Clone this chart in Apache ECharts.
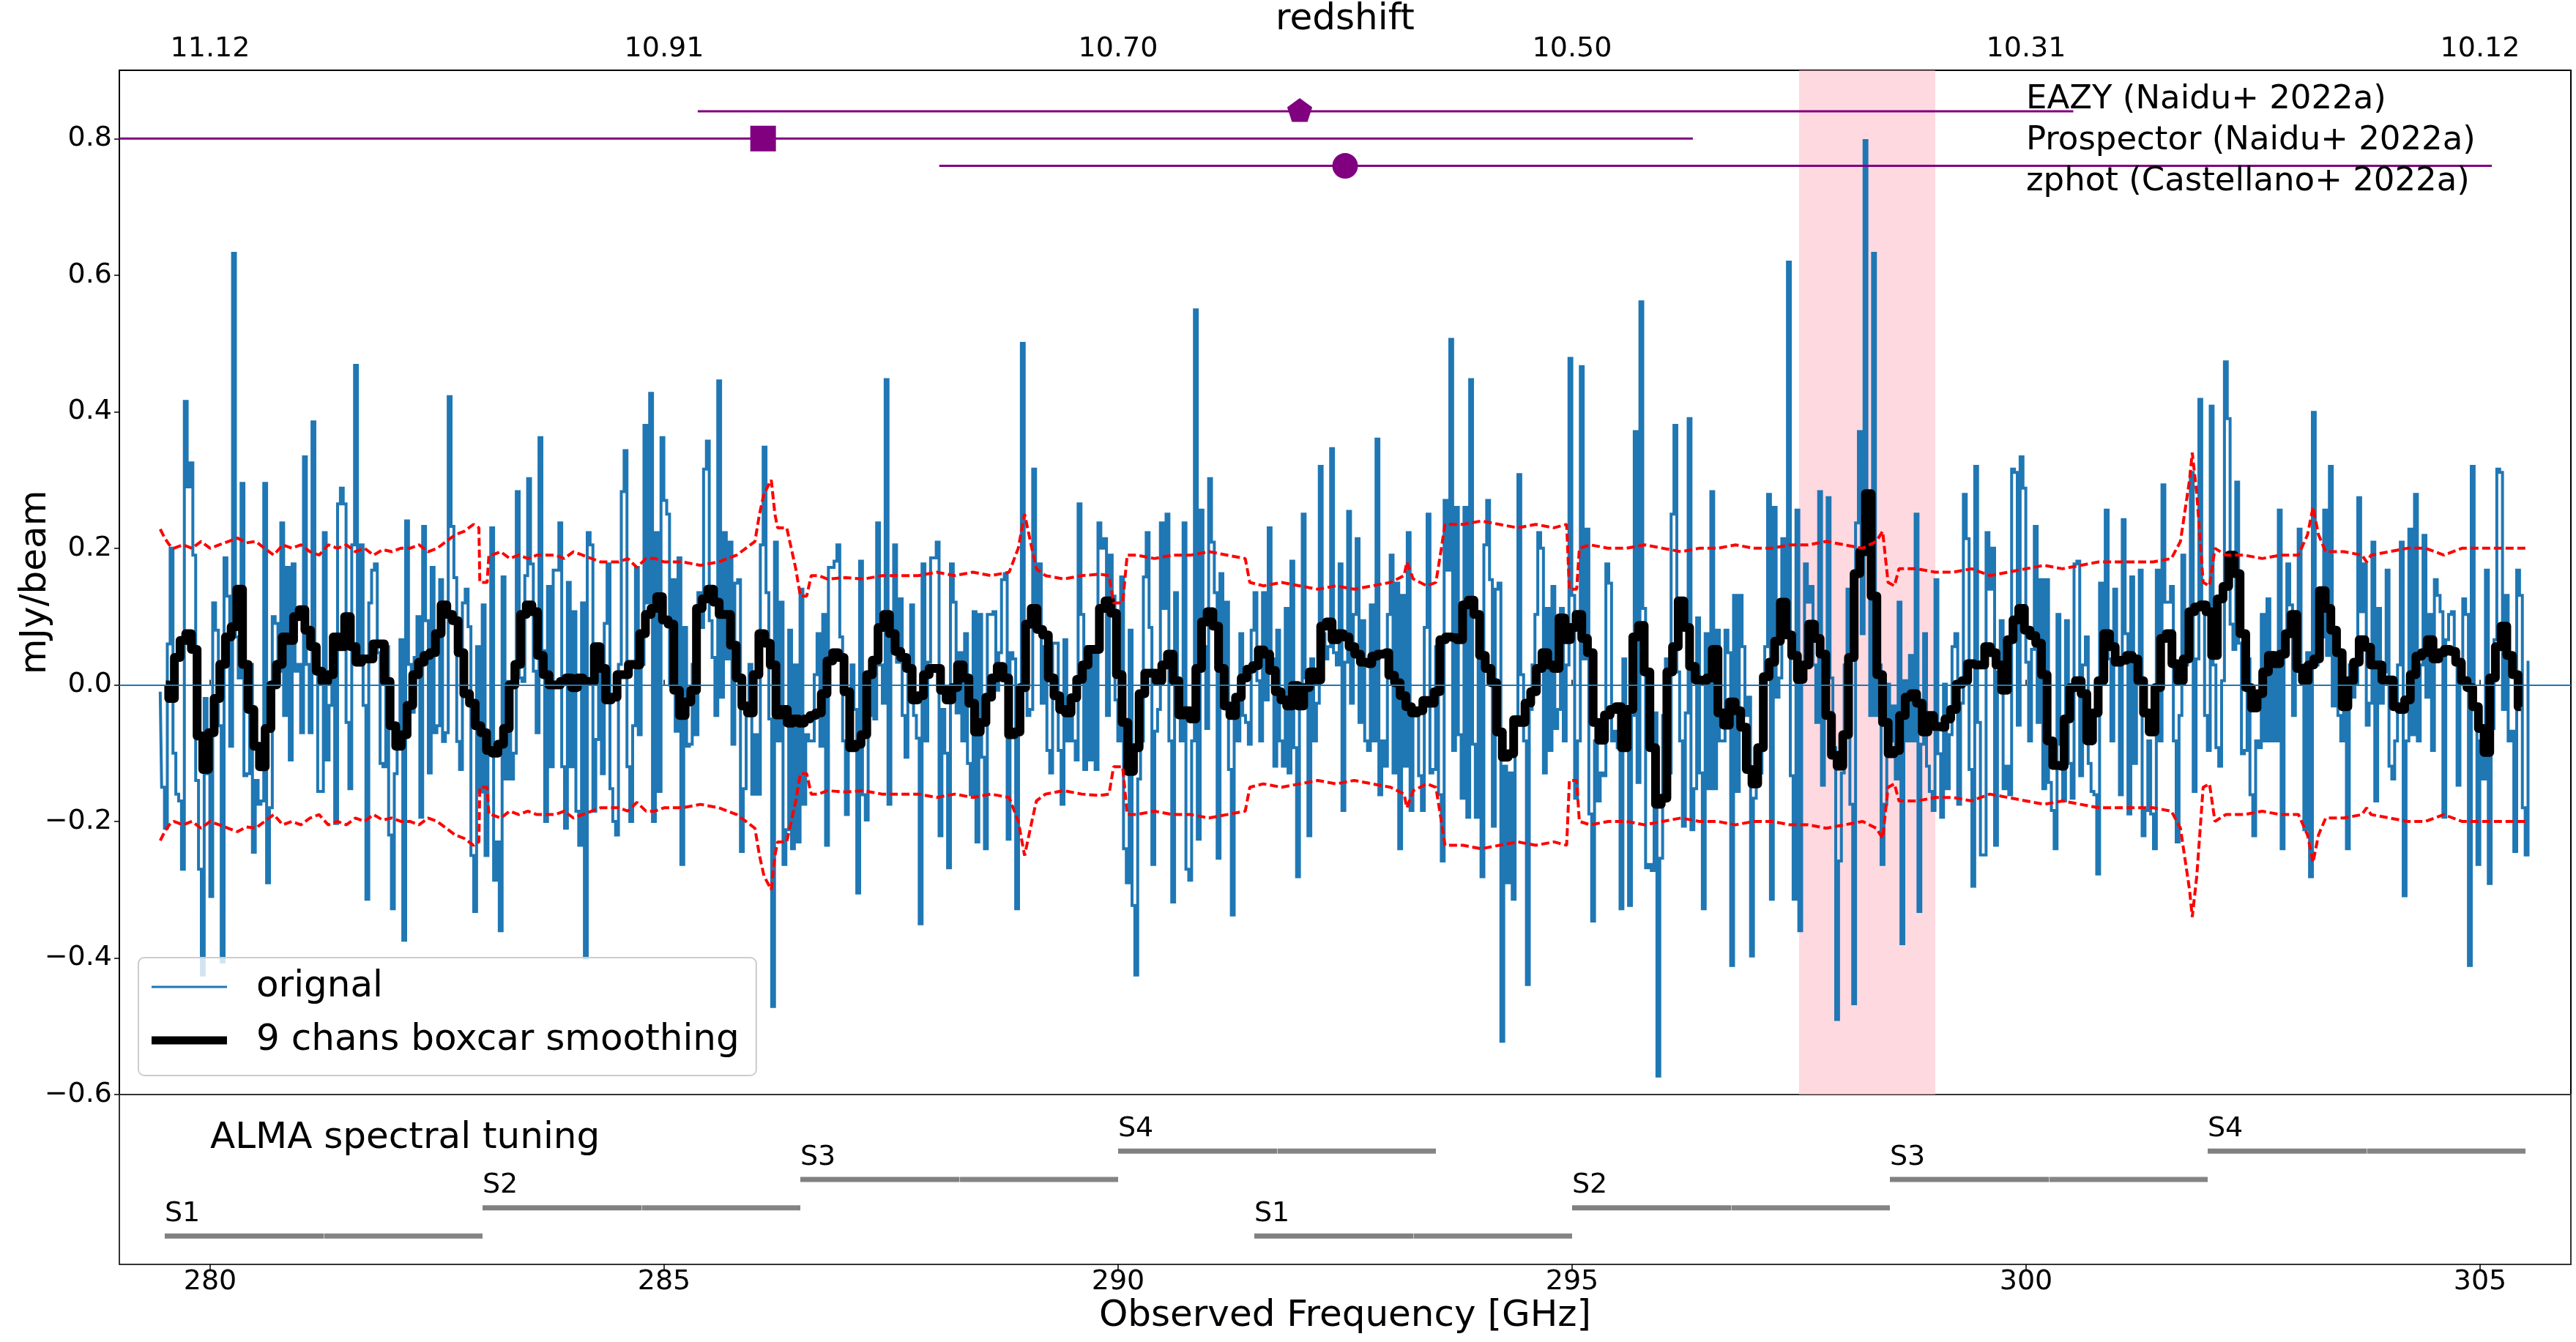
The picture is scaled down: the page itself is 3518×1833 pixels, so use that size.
<!DOCTYPE html>
<html><head><meta charset="utf-8">
<script src="https://cdn.jsdelivr.net/npm/echarts@6/dist/echarts.min.js"></script>
<style>html,body{margin:0;padding:0;background:#fff}#c{width:3518px;height:1833px}</style>
</head><body><div id="c"></div>
<script>
// ---- channel grid of the original spectrum ----
const chanStart = 279.45, chanWidth = 0.03125;
// original spectrum, mJy/beam (segment by segment)
const orig1 = [-0.01,-0.15,-0.21,0.06,0.2,-0.1,-0.16,-0.17,-0.27,0.415,0.29,0.325,0.19,-0.14,-0.27,-0.425,-0.02,-0.13,-0.31,0.12,0.08,-0.06,-0.406,0.186,0.13,-0.09,0.632,0.07,0.01,0.295,-0.133,-0.13,
0.03,-0.245,-0.14,-0.175,-0.17,0.295,-0.29,-0.18,0.1,0.09,0.02,0.237,-0.045,0.172,-0.11,0.177,0.02,0.03,-0.07,0.334,0.03,-0.07,0.385,0.05,-0.156,-0.156,0.223,-0.11,-0.03,0.03,-0.203,0.265,
0.288,0.265,-0.055,-0.152,0.205,0.468,0.03,0.205,-0.03,-0.314,0.12,0.168,0.177,0.047,-0.115,-0.12,0.056,-0.22,-0.328,-0.13,-0.09,0.066,-0.374,0.24,0.03,-0.04,0.04,0.1,-0.194,0.232,0.094,-0.129,
0.172,-0.07,-0.06,0.154,-0.083,-0.07,0.422,0.232,0.157,-0.083,-0.124,0.12,0.14,0.085,-0.25,-0.332,0.056,-0.157,0.117,-0.25,-0.09,0.23,-0.286,-0.23,-0.36,0.158,-0.138,0.005,-0.138,-0.1,0.283,0.01,
0.005,0.16,0.302,0.177,0.02,-0.07,0.362,0.05,-0.2,0.144,-0.12,0.168,0.168,0.237,-0.12,-0.21,0.15,-0.12,0.107,-0.185,-0.235,0.12,-0.4,0.223,0.205,-0.185,-0.08,0.056,-0.13,0.09];
const orig2 = [0.177,-0.152,-0.2,-0.22,0.03,0.283,0.343,-0.12,-0.2,-0.06,
0.172,-0.073,0.03,0.38,0.12,0.427,-0.2,0.223,-0.156,0.362,
0.27,0.25,0.0,0.154,-0.068,0.186,-0.263,0.084,-0.09,-0.087,
0.03,-0.073,0.135,0.084,0.316,0.357,0.094,0.04,-0.045,0.445,
-0.018,0.223,0.038,0.209,-0.087,0.149,0.154,-0.244,-0.152,-0.036,
0.03,-0.16,-0.073,-0.16,0.205,0.348,0.135,-0.05,-0.471,0.209,
-0.082,0.121,-0.263,-0.212,0.08,-0.24,0.029,-0.23,0.14,-0.175,
-0.073,-0.082,-0.082,0.015,0.075,-0.09,0.103,-0.235,0.172,0.172,
0.181,0.205,0.07,-0.082,-0.19,-0.087,0.029,-0.036,-0.305,0.181,
-0.161,-0.198,-0.045,0.029,-0.05,0.237,0.029,-0.027,0.447,-0.175,
0.066,0.205,0.033,0.126,-0.045,-0.106,0.029,0.117,-0.045,-0.078,
-0.35,0.177,-0.082,0.033,0.186,0.186,0.209,-0.221,-0.036,-0.1,
-0.268,0.177,0.121,-0.041,0.047,-0.082,0.075,-0.115,-0.161,0.107,
-0.23,0.103,-0.106,-0.24,0.103,0.103,0.107,-0.008,0.047,0.154,
0.163,-0.226,0.047,0.038,-0.328,-0.069,0.5,0.029,-0.045,-0.036,
0.316,0.084,0.177,-0.027,0.056,-0.096,-0.129,0.061,0.061,-0.096,
-0.175,0.066,-0.082,-0.027,-0.082,-0.11,0.265,0.103,-0.124,0.056];
const orig3 = [-0.11,0.056,-0.124,0.237,0.2,0.214,-0.045,0.19,0.13,-0.022,
-0.082,0.158,-0.24,-0.29,0.08,-0.323,-0.425,-0.138,-0.082,0.158,
0.223,0.084,-0.263,-0.068,-0.036,0.237,0.112,0.25,-0.082,-0.318,
0.135,-0.008,-0.082,0.237,-0.27,-0.286,-0.082,0.549,-0.226,0.256,
0.056,-0.064,0.302,0.209,0.135,-0.254,0.163,-0.008,0.121,-0.124,
-0.337,-0.027,-0.082,0.075,-0.045,-0.055,-0.087,0.08,0.135,0.006,
-0.082,0.135,-0.022,0.23,0.038,-0.119,0.08,-0.082,-0.119,0.112,
-0.129,0.181,-0.092,-0.281,-0.022,0.25,0.01,-0.221,0.038,-0.082,
-0.027,0.32,0.075,0.038,0.056,0.346,0.047,0.029,0.177,-0.184,
0.033,0.254,-0.027,0.103,0.214,-0.055,0.094,-0.082,-0.096,0.117,
-0.082,0.36,-0.161,-0.082,-0.119,0.103,0.19,-0.129,0.149,-0.24,
0.131,-0.119,0.223,-0.184,-0.045,-0.045,-0.133,-0.184,0.084,0.25,
-0.129,-0.124,0.056,-0.161,-0.258,0.27,0.168,0.506,-0.096,0.26,
-0.073,-0.166,0.26,-0.194,0.447,-0.087,-0.194,0.038,-0.281,0.205,
0.27,0.154,-0.207,0.14,0.149,-0.522,-0.119,-0.29,-0.129,-0.314,
-0.055,0.308,0.015,-0.082,-0.439,-0.036,0.029,0.103,0.223,0.2,
-0.129,0.112,-0.096,0.144,-0.064,-0.036,0.112,-0.082,0.029,0.478,
0.131,-0.166,-0.082];
const orig4 = [0.466,0.038,0.228,-0.189,-0.346,-0.082,-0.17,-0.129,-0.133,0.177,
0.149,-0.082,-0.068,-0.092,-0.328,0.038,-0.082,-0.323,-0.045,0.371,
-0.143,0.561,0.112,-0.268,-0.263,-0.272,-0.041,-0.573,-0.254,-0.045,
0.038,-0.129,0.25,0.38,0.019,-0.082,-0.207,-0.041,0.39,-0.212,
-0.152,0.098,-0.129,-0.328,0.075,-0.152,0.283,-0.152,0.08,-0.082,
-0.082,0.08,0.047,-0.411,0.131,-0.156,0.131,0.056,-0.045,-0.018,
-0.397,-0.166,-0.138,-0.129,0.01,0.056,0.279,-0.314,0.26,-0.018,
0.01,0.214,0.084,0.619,-0.133,-0.314,0.256,-0.36,0.019,0.177,
0.121,0.144,0.029,-0.055,0.283,-0.147,0.006,0.274,0.01,-0.092,
-0.49,-0.258,-0.129,0.029,0.14,-0.175,-0.467,0.237,0.371,0.075,
0.797,0.195,-0.045,0.632,-0.045,0.029,-0.263,-0.175,0.001,-0.082,
-0.031,-0.138,0.121,-0.379,0.006,-0.082,0.043,-0.082,0.25,-0.332,
-0.087,0.075,-0.119,-0.156,-0.184,0.154,-0.101,-0.194,0.001,-0.152,
-0.073,0.056,0.075,-0.175,-0.027,0.279,0.214,-0.124,-0.295,0.32,
-0.055,-0.249,-0.249,0.223,0.14,0.2,-0.235,0.019,0.094,-0.152,
-0.119,-0.161,0.316,0.311,-0.059,0.334,0.288,0.033,-0.082,0.052,
0.232,-0.055,0.154,-0.152,0.154,-0.143,-0.184,-0.24,0.103,-0.087,
-0.17];
const orig5 = [0.094,-0.115,-0.166,0.177,0.181,-0.133,0.029,0.07,-0.115,-0.156,
-0.161,-0.277,0.149,0.01,0.256,0.038,-0.082,0.14,0.038,-0.161,
0.242,0.075,-0.189,0.158,-0.115,0.038,0.168,-0.221,-0.184,-0.082,
-0.189,-0.24,0.168,-0.082,0.293,0.121,0.121,0.144,-0.082,-0.23,
-0.045,0.19,0.029,0.075,0.311,-0.156,0.038,0.418,0.121,-0.045,
-0.096,0.408,0.029,-0.092,-0.119,0.006,0.473,0.39,0.089,0.052,
0.297,0.061,-0.101,-0.096,0.038,-0.161,-0.221,-0.082,-0.092,0.103,
-0.082,0.126,-0.082,0.047,-0.082,0.256,-0.24,0.066,0.177,0.117,
-0.045,0.103,0.228,0.029,-0.212,0.047,-0.281,0.399,0.029,0.103,
0.07,0.256,0.043,0.32,-0.031,0.061,-0.045,-0.082,0.01,-0.24,
0.029,-0.018,0.001,0.274,0.107,0.177,-0.059,-0.027,0.209,-0.17,
0.112,-0.027,0.019,0.168,-0.119,-0.138,-0.082,0.029,0.209,-0.309,
-0.082,0.228,-0.073,0.279,-0.082,0.029,0.219,-0.018,0.103,-0.096,
0.154,0.131,0.107,-0.194,0.066,0.103,0.107,0.047,-0.147,0.029,
0.126,0.103,-0.411,0.32,-0.036,-0.263,-0.082,-0.138,0.168,-0.291,
-0.064,0.066,0.316,0.311,-0.036,0.131,-0.082,-0.068,-0.244,0.168,
0.131,-0.18,-0.249,0.033];
const original = [].concat(orig1, orig2, orig3, orig4, orig5);

// ---- 9-channel boxcar smoothed spectrum ----
const smoothStart = 279.5125, smoothStep = 0.0625;
const smoothed = [0.0,-0.02,0.04,0.065,0.075,0.052,-0.075,-0.124,-0.07,-0.02,
0.03,0.07,0.085,0.14,0.03,-0.036,-0.09,-0.12,-0.064,0.0,
0.03,0.07,0.065,0.1,0.11,0.08,0.056,0.02,0.005,0.015,
0.07,0.056,0.1,0.056,0.033,0.038,0.038,0.06,0.06,0.005,
-0.06,-0.09,-0.073,-0.03,0.015,0.033,0.043,0.047,0.075,0.117,
0.103,0.094,0.047,-0.013,-0.027,-0.06,-0.07,-0.096,-0.1,-0.087,
-0.064,0.0,0.03,0.103,0.117,0.107,0.043,0.015,0.0,0.0,
0.005,0.01,-0.004,0.01,0.005,0.005,0.056,0.024,
-0.022,-0.018,0.015,0.015,0.03,0.029,0.075,0.103,0.112,0.129,
0.095,0.089,-0.008,-0.045,-0.025,-0.008,0.112,0.126,0.14,0.121,
0.103,0.103,0.058,0.01,-0.031,-0.041,0.015,0.075,0.061,0.029,
-0.044,-0.036,-0.056,-0.05,-0.056,-0.05,-0.045,-0.041,-0.013,0.035,
0.047,0.04,-0.01,-0.092,-0.087,-0.073,0.015,0.036,0.084,0.103,
0.075,0.049,0.04,0.024,-0.022,-0.016,0.015,0.024,0.024,-0.008,
-0.022,-0.004,0.029,0.01,-0.027,-0.069,-0.055,-0.018,0.01,0.027,
0.01,-0.073,-0.069,-0.004,0.089,0.112,0.081,0.073,0.01,-0.016,
-0.036,-0.041,-0.019,0.008,0.029,0.052,
0.052,0.112,0.123,0.105,0.015,-0.055,-0.127,-0.092,-0.013,0.017,
0.017,0.006,0.029,0.045,0.006,-0.044,-0.038,-0.05,0.024,0.092,
0.107,0.086,0.024,-0.031,-0.045,-0.018,0.01,0.023,0.028,0.051,
0.045,0.021,-0.01,-0.022,-0.031,-0.001,-0.031,-0.004,0.019,0.007,
0.086,0.092,0.066,0.075,0.07,0.056,0.045,0.033,0.031,0.042,
0.045,0.047,0.014,0.003,-0.016,-0.032,-0.041,-0.038,-0.023,-0.027,
-0.01,0.066,0.07,0.069,0.066,0.117,0.124,0.103,0.043,0.024,
0.003,-0.069,-0.106,-0.101,-0.051,-0.055,-0.027,-0.01,0.024,0.047,
0.029,0.024,0.098,0.066,0.084,0.103,
0.068,0.047,-0.055,-0.081,-0.044,-0.036,-0.032,-0.092,-0.036,0.07,
0.087,0.019,-0.092,-0.175,-0.166,0.019,0.056,0.123,0.084,0.027,
0.007,0.006,0.01,0.052,-0.041,-0.059,-0.025,-0.038,-0.062,-0.124,
-0.145,-0.092,0.012,0.033,0.064,0.121,0.073,0.043,0.008,0.029,
0.089,0.068,0.045,-0.045,-0.103,-0.119,-0.073,0.04,0.163,0.195,
0.28,0.13,0.015,-0.055,-0.101,-0.096,-0.045,-0.018,-0.013,-0.027,
-0.069,-0.045,-0.061,-0.062,-0.05,-0.036,0.001,0.006,0.031,0.029,
0.029,0.056,0.047,0.029,-0.008,0.066,0.095,0.112,0.08,0.072,
0.061,0.015,-0.082,-0.118,-0.119,-0.05,
-0.004,0.006,-0.013,-0.082,-0.041,0.006,0.075,0.056,0.033,0.036,
0.043,0.038,0.006,-0.041,-0.069,-0.004,0.068,0.075,0.031,0.006,
0.038,0.107,0.114,0.117,0.107,0.043,0.126,0.144,0.19,0.163,
0.075,-0.004,-0.034,-0.013,0.019,0.043,0.031,0.045,0.075,0.103,
0.024,0.006,0.029,0.038,0.138,0.112,0.08,0.047,-0.032,0.006,
0.033,0.066,0.055,0.029,0.029,0.007,0.007,-0.032,-0.036,-0.022,
0.015,0.042,0.047,0.066,0.038,0.047,0.052,0.049,0.033,0.006,
-0.004,-0.032,-0.064,-0.099,0.01,0.056,0.086,0.043,0.015,-0.032];

// ---- per-channel rms (drawn as +rms and -rms) : [GHz, mJy/beam] ----
const rmsPoints = [[279.45,.228],[279.5,.215],[279.55,.205],[279.6,.2],[279.7,.205],[279.8,.2],[279.9,.21],[280.0,.2],[280.1,.205],[280.2,.21],[280.3,.215],[280.4,.208],[280.5,.21],[280.6,.2],[280.7,.19],[280.8,.205],[280.9,.2],[281.0,.205],[281.1,.195],[281.2,.19],[281.3,.205],[281.4,.2],[281.5,.205],[281.6,.195],[281.7,.2],[281.8,.19],[281.9,.198],[282.0,.195],[282.1,.2],[282.2,.2],[282.3,.205],[282.4,.195],[282.5,.2],[282.6,.21],[282.7,.22],[282.8,.225],[282.9,.235],[282.96,.23],[282.97,.15],[283.05,.15],[283.07,.19],[283.1,.19],[283.2,.195],[283.3,.185],[283.4,.19],[283.5,.185],[283.6,.19],[283.7,.19],[283.8,.19],[283.9,.185],[284.0,.195],[284.1,.19],[284.2,.185],[284.3,.18],[284.4,.18],[284.5,.18],[284.6,.185],[284.7,.172],[284.8,.185],[284.9,.185],[285.0,.18],[285.2,.18],[285.4,.175],[285.6,.18],[285.7,.185],[285.8,.19],[285.9,.2],[286.0,.21],[286.05,.25],[286.1,.28],[286.18,.3],[286.22,.25],[286.25,.23],[286.35,.23],[286.4,.2],[286.45,.17],[286.5,.13],[286.57,.13],[286.62,.16],[286.7,.16],[286.8,.155],[287.0,.157],[287.2,.155],[287.4,.16],[287.6,.16],[287.8,.16],[288.0,.165],[288.2,.16],[288.4,.165],[288.6,.16],[288.8,.165],[288.9,.2],[288.97,.25],[289.05,.2],[289.1,.17],[289.2,.16],[289.4,.155],[289.6,.16],[289.8,.162],[289.9,.16],[289.95,.12],[290.05,.12],[290.1,.19],[290.2,.19],[290.4,.185],[290.6,.19],[290.8,.19],[291.0,.195],[291.2,.19],[291.4,.185],[291.45,.15],[291.6,.145],[291.8,.15],[292.0,.145],[292.2,.14],[292.4,.145],[292.6,.14],[292.8,.145],[293.0,.15],[293.15,.16],[293.18,.18],[293.25,.155],[293.4,.145],[293.5,.15],[293.56,.2],[293.6,.235],[293.8,.235],[294.0,.24],[294.2,.235],[294.4,.23],[294.6,.235],[294.8,.23],[294.94,.235],[294.97,.14],[295.05,.14],[295.08,.2],[295.2,.205],[295.4,.2],[295.6,.2],[295.8,.205],[296.0,.2],[296.2,.195],[296.4,.2],[296.6,.2],[296.8,.205],[297.0,.2],[297.2,.2],[297.4,.205],[297.6,.205],[297.8,.21],[298.0,.205],[298.2,.2],[298.35,.21],[298.42,.225],[298.48,.15],[298.55,.145],[298.6,.17],[298.8,.17],[299.0,.165],[299.2,.165],[299.4,.17],[299.6,.16],[299.8,.165],[300.0,.17],[300.2,.175],[300.4,.17],[300.6,.175],[300.8,.18],[301.0,.18],[301.2,.18],[301.4,.18],[301.6,.185],[301.7,.21],[301.8,.3],[301.83,.34],[301.88,.28],[301.95,.15],[302.02,.145],[302.08,.2],[302.2,.19],[302.4,.19],[302.6,.185],[302.8,.19],[303.0,.19],[303.1,.22],[303.16,.26],[303.22,.22],[303.3,.195],[303.5,.195],[303.7,.19],[303.75,.18],[303.8,.19],[304.0,.195],[304.2,.2],[304.4,.2],[304.6,.19],[304.8,.2],[305.0,.2],[305.2,.2],[305.4,.2],[305.53,.2]];

// ---- axes ----
const tickFreqs = [280, 285, 290, 295, 300, 305];
const redshiftLabels = ['11.12', '10.91', '10.70', '10.50', '10.31', '10.12'];

// ---- photometric redshift estimates (converted to observed GHz) ----
const estNames = ['EAZY (Naidu+ 2022a)', 'Prospector (Naidu+ 2022a)', 'zphot (Castellano+ 2022a)'];
const estBest = [292.0, 286.09, 292.5];
const estLo = [285.37, 278.5, 288.03];
const estHi = [300.52, 296.33, 305.13];
const estY = [0.84, 0.80, 0.76];
const estMarker = ['pentagon', 'square', 'circle'];
const estLabelFreq = 300.0;
const estLabelY = [0.84, 0.78, 0.72];

// ---- highlighted frequency range ----
const bandRange = [297.5, 299.0];

// ---- ALMA spectral tuning windows ----
const tuneNames = ['S1', 'S2', 'S3', 'S4', 'S1', 'S2', 'S3', 'S4'];
const tuneStart = [279.5, 283.0, 286.5, 290.0, 291.5, 295.0, 298.5, 302.0];
const tuneEnd = [283.0, 286.5, 290.0, 293.5, 295.0, 298.5, 302.0, 305.5];
const tuneLevel = [1, 2, 3, 4, 1, 2, 3, 4];
const tuningTitle = 'ALMA spectral tuning';
const tuningTitlePos = [280.0, 4.0];

const FONT = 'DejaVu Sans';
const PURPLE = '#800080';
const BLUE = '#1f77b4';
const chart = echarts.init(document.getElementById('c'), null, {renderer: 'canvas'});

const origData = original.map((v, i) => [chanStart + i * chanWidth, v]);
const smoothData = smoothed.map((v, i) => [smoothStart + i * smoothStep, v]);
const rmsUp = rmsPoints.map(p => [p[0], p[1]]);
const rmsDown = rmsPoints.map(p => [p[0], -p[1]]);
const minus = s => s.replace('-', '\u2212');

function pentagon(cx, cy, R) {
  const pts = [];
  for (let k = 0; k < 5; k++) {
    const a = -Math.PI / 2 + k * 2 * Math.PI / 5;
    pts.push([cx + R * Math.cos(a), cy + R * Math.sin(a)]);
  }
  return pts;
}

const option = {
  animation: false,
  backgroundColor: '#ffffff',
  textStyle: {fontFamily: FONT},
  grid: [
    {left: 163, right: 7, top: 96, height: 1399, show: true, borderColor: '#000', borderWidth: 2, backgroundColor: 'transparent', outerBoundsMode: 'none', containLabel: false},
    {left: 163, right: 7, top: 1495, height: 232, show: true, borderColor: '#333', borderWidth: 2, backgroundColor: 'transparent', outerBoundsMode: 'none', containLabel: false}
  ],
  xAxis: [
    {type: 'value', gridIndex: 0, position: 'top', min: 279, max: 306,
      axisLine: {show: false}, splitLine: {show: false},
      axisTick: {show: true, customValues: tickFreqs, length: 7, lineStyle: {color: '#000', width: 1.5}},
      axisLabel: {show: true, customValues: tickFreqs, formatter: v => redshiftLabels[tickFreqs.indexOf(Math.round(v))], fontSize: 38, color: '#000', margin: 10, fontFamily: FONT},
      name: 'redshift', nameLocation: 'middle', nameGap: 44, nameMoveOverlap: false, nameTextStyle: {fontSize: 50, color: '#000', fontFamily: FONT}},
    {type: 'value', gridIndex: 1, position: 'bottom', min: 279, max: 306,
      axisLine: {show: false}, splitLine: {show: false},
      axisTick: {show: true, customValues: tickFreqs, length: 7, lineStyle: {color: '#000', width: 1.5}},
      axisLabel: {show: true, customValues: tickFreqs, formatter: v => String(Math.round(v)), fontSize: 38, color: '#000', margin: 5, fontFamily: FONT},
      name: 'Observed Frequency [GHz]', nameLocation: 'middle', nameGap: 46, nameMoveOverlap: false, nameTextStyle: {fontSize: 50, color: '#000', fontFamily: FONT}}
  ],
  yAxis: [
    {type: 'value', gridIndex: 0, min: -0.6, max: 0.9, interval: 0.2,
      axisLine: {show: false}, splitLine: {show: false},
      axisTick: {show: true, length: 7, lineStyle: {color: '#000', width: 1.5}},
      axisLabel: {fontSize: 38, color: '#000', margin: 10, showMaxLabel: false, fontFamily: FONT, formatter: v => minus(v.toFixed(1))},
      name: 'mJy/beam', nameLocation: 'middle', nameGap: 89, nameMoveOverlap: false, nameTextStyle: {fontSize: 50, color: '#000', fontFamily: FONT}},
    {type: 'value', gridIndex: 1, min: 0, max: 6, show: false}
  ],
  legend: {
    data: [
      {name: 'orignal', icon: 'path://M0,0 L103,0 L103,3 L0,3 Z'},
      {name: '9 chans boxcar smoothing', icon: 'path://M0,0 L103,0 L103,11 L0,11 Z'}
    ],
    orient: 'vertical', left: 189, top: 1308,
    itemWidth: 103, itemHeight: 14, itemGap: 17, symbolKeepAspect: true,
    padding: [12, 23, 20, 18],
    backgroundColor: 'rgba(255,255,255,0.8)', borderColor: '#cccccc', borderWidth: 2, borderRadius: 8,
    textStyle: {fontSize: 50, fontFamily: FONT, color: '#000', lineHeight: 56, padding: [0, 0, 0, 35]},
    selectedMode: false, z: 20
  },
  series: [
    {name: 'band', type: 'line', xAxisIndex: 0, yAxisIndex: 0, data: [], z: 1, silent: true,
      markArea: {silent: true, itemStyle: {color: 'rgba(255,192,203,0.6)'}, data: [[{xAxis: bandRange[0]}, {xAxis: bandRange[1]}]]}},
    {name: 'orignal', type: 'line', xAxisIndex: 0, yAxisIndex: 0, step: 'middle', data: origData,
      symbol: 'none', showSymbol: false, sampling: 'none', z: 2,
      lineStyle: {color: BLUE, width: 4, join: 'miter'}, itemStyle: {color: BLUE},
      markLine: {silent: true, symbol: ['none', 'none'], label: {show: false}, lineStyle: {color: BLUE, width: 2, type: 'solid'}, data: [{yAxis: 0}]}},
    {name: '9 chans boxcar smoothing', type: 'line', xAxisIndex: 0, yAxisIndex: 0, step: 'middle', data: smoothData,
      symbol: 'none', showSymbol: false, z: 3,
      lineStyle: {color: '#000', width: 12, join: 'round', cap: 'butt'}, itemStyle: {color: '#000'}},
    {name: 'rms+', type: 'line', xAxisIndex: 0, yAxisIndex: 0, data: rmsUp, symbol: 'none', z: 4,
      lineStyle: {color: '#ff0000', width: 4, type: [11, 5]}},
    {name: 'rms-', type: 'line', xAxisIndex: 0, yAxisIndex: 0, data: rmsDown, symbol: 'none', z: 4,
      lineStyle: {color: '#ff0000', width: 4, type: [11, 5]}},
    {name: 'estimates', type: 'custom', xAxisIndex: 0, yAxisIndex: 0, z: 5, clip: true, silent: true,
      data: estBest.map((b, i) => [estLo[i], b, estHi[i], estY[i]]),
      renderItem: (params, api) => {
        const y = api.value(3);
        const a = api.coord([api.value(0), y]);
        const b = api.coord([api.value(2), y]);
        const c = api.coord([api.value(1), y]);
        const m = estMarker[params.dataIndex];
        let mk;
        if (m === 'square') mk = {type: 'rect', shape: {x: c[0] - 17.5, y: c[1] - 17.5, width: 35, height: 35}, style: {fill: PURPLE}};
        else if (m === 'circle') mk = {type: 'circle', shape: {cx: c[0], cy: c[1], r: 17.5}, style: {fill: PURPLE}};
        else mk = {type: 'polygon', shape: {points: pentagon(c[0], c[1], 18)}, style: {fill: PURPLE}};
        return {type: 'group', children: [
          {type: 'line', shape: {x1: a[0], y1: a[1], x2: b[0], y2: b[1]}, style: {stroke: PURPLE, lineWidth: 3}},
          mk
        ]};
      }},
    {name: 'estLabels', type: 'custom', xAxisIndex: 0, yAxisIndex: 0, z: 6, clip: false, silent: true,
      data: estLabelY.map(y => [estLabelFreq, y]),
      renderItem: (params, api) => {
        const p = api.coord([api.value(0), api.value(1)]);
        return {type: 'text', x: p[0], y: p[1] - 0.35 * 45,
          style: {text: estNames[params.dataIndex], fill: '#000', font: '45px "DejaVu Sans"', align: 'left', verticalAlign: 'middle'}};
      }},
    {name: 'tuning', type: 'custom', xAxisIndex: 1, yAxisIndex: 1, z: 5, clip: false, silent: true,
      data: tuneStart.map((s, i) => [s, tuneEnd[i], tuneLevel[i]]),
      renderItem: (params, api) => {
        const lv = api.value(2);
        const s = api.coord([api.value(0), lv]);
        const e = api.coord([api.value(1), lv]);
        const mid = (s[0] + e[0]) / 2;
        return {type: 'group', children: [
          {type: 'line', shape: {x1: s[0], y1: s[1], x2: mid, y2: s[1]}, style: {stroke: '#808080', lineWidth: 7}},
          {type: 'line', shape: {x1: mid + 0.6, y1: s[1], x2: e[0], y2: s[1]}, style: {stroke: '#848484', lineWidth: 7}},
          {type: 'text', x: s[0], y: s[1] - 17 - 0.35 * 38,
            style: {text: tuneNames[params.dataIndex], fill: '#000', font: '38px "DejaVu Sans"', align: 'left', verticalAlign: 'middle'}}
        ]};
      }},
    {name: 'tuningTitle', type: 'custom', xAxisIndex: 1, yAxisIndex: 1, z: 5, clip: false, silent: true,
      data: [tuningTitlePos],
      renderItem: (params, api) => {
        const p = api.coord([api.value(0), api.value(1)]);
        return {type: 'text', x: p[0], y: p[1] - 0.35 * 50,
          style: {text: tuningTitle, fill: '#000', font: '50px "DejaVu Sans"', align: 'left', verticalAlign: 'middle'}};
      }}
  ]
};
chart.setOption(option);
</script>
</body></html>
